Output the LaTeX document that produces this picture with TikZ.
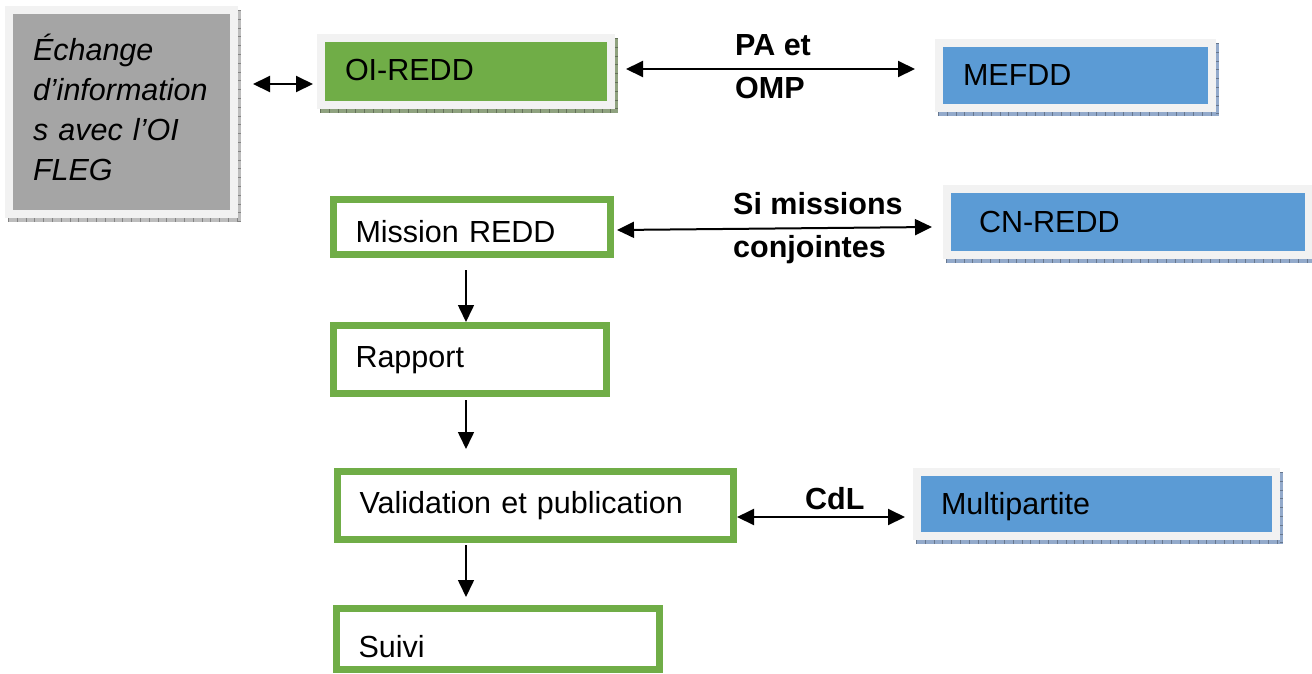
\documentclass[tikz,border=0pt]{standalone}
\usepackage{fontspec}
\setmainfont{Liberation Sans}
\usetikzlibrary{arrows.meta,backgrounds}
\definecolor{grayfill}{HTML}{A5A5A5}
\definecolor{framecol}{HTML}{F2F2F2}
\definecolor{greenc}{HTML}{70AD47}
\definecolor{bluec}{HTML}{5B9BD5}
\definecolor{shgray}{HTML}{BDBDBD}
\definecolor{shgreen}{HTML}{8FA27F}
\definecolor{shblue}{HTML}{93AACB}
\begin{document}
\begin{tikzpicture}[x=1pt,y=-1pt,
  every node/.style={font=\fontsize{30.5}{40}\selectfont},
  framed/.style={draw=framecol, line width=8pt, inner xsep=24pt, inner ysep=0pt, align=left, text depth=0pt},
  greenbox/.style={draw=greenc, line width=7pt, fill=white, inner xsep=22pt, inner ysep=0pt, align=left, text depth=0pt},
  lab/.style={font=\fontsize{30.5}{43}\selectfont\bfseries, inner sep=0pt, align=left, anchor=base west},
  biarrow/.style={line width=2pt, {Triangle[length=17pt,width=16pt]}-{Triangle[length=17pt,width=16pt]}},
  downarrow/.style={line width=1.6pt, -{Triangle[length=17pt,width=16pt]}},
]
\useasboundingbox (0,0) rectangle (1312,673);

% framed boxes
\node[framed, fill=grayfill, minimum width=225pt, minimum height=204pt, text width=177pt,
      text height=20pt, text depth=124pt, font=\fontsize{30.5}{40}\selectfont\itshape]
      (gray) at (121.5,112) {Échange\\d’information\\s avec l’OI\\FLEG};
\node[framed, fill=greenc, minimum width=290pt, minimum height=67pt, text width=242pt, text height=17pt]
      (oi) at (466,71.5) {OI-REDD};
\node[framed, fill=bluec, minimum width=273pt, minimum height=65pt, text width=225pt, text height=19pt]
      (mef) at (1075.5,75.5) {MEFDD};
\node[framed, fill=bluec, minimum width=362pt, minimum height=66pt, inner xsep=32pt, text width=298pt, text height=20pt]
      (cn) at (1128,222) {CN-REDD};
\node[framed, fill=bluec, minimum width=359pt, minimum height=64pt, text width=311pt, text height=20pt]
      (multi) at (1096.5,504) {Multipartite};

% green outlined boxes
\node[greenbox, minimum width=277pt, minimum height=55pt, text width=233pt, text height=30pt]
      (mission) at (472,227) {Mission REDD};
\node[greenbox, minimum width=273pt, minimum height=68pt, text width=229pt, text height=15pt]
      (rapport) at (470,359.5) {Rapport};
\node[greenbox, minimum width=396pt, minimum height=68pt, text width=352pt, text height=15pt]
      (valid) at (535.5,505.5) {Validation et publication};
\node[greenbox, minimum width=323pt, minimum height=61pt, text width=279pt, text height=36pt]
      (suivi) at (498,639) {Suivi};

% shadows
\begin{scope}[on background layer]
  \foreach \n/\c in {gray/shgray, oi/shgreen, mef/shblue, cn/shblue, multi/shblue}{
    \fill[\c] ([xshift=3pt,yshift=-4pt]\n.south west) rectangle ([xshift=3pt,yshift=-4pt]\n.north east);
    \draw[\c!70!black, line width=4pt, dash pattern=on 0.8pt off 8pt]
      ([xshift=3pt,yshift=-2pt]\n.south west) -- ([xshift=3pt,yshift=-2pt]\n.south east);
    \draw[\c!70!black, line width=3pt, dash pattern=on 0.8pt off 8pt]
      ([xshift=1.5pt,yshift=-4pt]\n.north east) -- ([xshift=1.5pt,yshift=-4pt]\n.south east);
  }
\end{scope}

% labels (base = baseline of last line)
\node[lab] (pa) at (735,98) {PA et\\OMP};
\node[lab] (si) at (733,257) {Si missions\\conjointes};
\node[lab] (cdl) at (805,509) {CdL};

% connectors
\draw[biarrow] ([xshift=15pt,yshift=28pt]gray.east) -- ([xshift=-4pt,yshift=-12.5pt]oi.west);
\draw[biarrow] ([xshift=11pt,yshift=2.5pt]oi.east) -- ([xshift=-20pt,yshift=6.5pt]mef.west);
\draw[biarrow] ([xshift=3pt,yshift=-3pt]mission.east) -- ([xshift=-11pt,yshift=-5pt]cn.west);
\draw[biarrow] ([yshift=-11.5pt]valid.east) -- ([xshift=-8pt,yshift=-13pt]multi.west);

\draw[downarrow] ([xshift=-6pt,yshift=-12pt]mission.south) -- ([xshift=-4pt]rapport.north);
\draw[downarrow] ([xshift=-4pt,yshift=-3pt]rapport.south) -- ([xshift=-69.5pt,yshift=19pt]valid.north);
\draw[downarrow] ([xshift=-69.5pt,yshift=-2pt]valid.south) -- ([xshift=-32pt,yshift=8pt]suivi.north);
\end{tikzpicture}
\end{document}
